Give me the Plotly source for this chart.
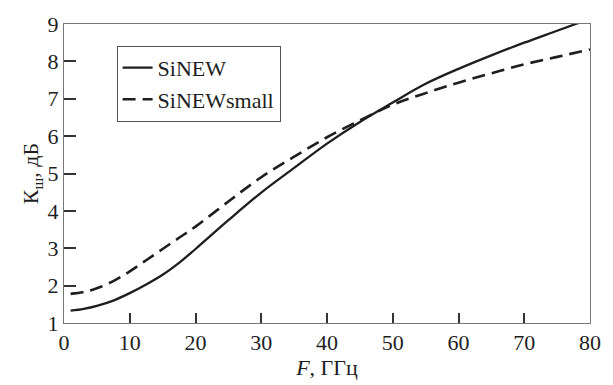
import plotly.graph_objects as go

F = [1, 3, 5, 7.5, 10, 12.5, 15, 17.5, 20, 25, 30, 35, 40, 45, 50, 55, 60, 65, 70, 75, 80]
sinew = [1.33, 1.38, 1.46, 1.6, 1.8, 2.03, 2.29, 2.61, 2.98, 3.75, 4.49, 5.15, 5.8, 6.38, 6.9, 7.4, 7.8, 8.16, 8.5, 8.82, 9.14]
sinew_small = [1.78, 1.83, 1.93, 2.12, 2.38, 2.68, 2.98, 3.28, 3.58, 4.25, 4.9, 5.45, 5.97, 6.42, 6.84, 7.15, 7.43, 7.68, 7.92, 8.12, 8.32]

x_ticks = [0, 10, 20, 30, 40, 50, 60, 70, 80]
y_ticks = [1, 2, 3, 4, 5, 6, 7, 8, 9]

font_family = "Liberation Serif, Times New Roman, serif"
ink = "#1e1e1e"

fig = go.Figure()
fig.add_trace(go.Scatter(x=F, y=sinew, mode="lines", name="SiNEW",
                         line=dict(color=ink, width=2.3, shape="spline")))
fig.add_trace(go.Scatter(x=F, y=sinew_small, mode="lines", name="SiNEWsmall",
                         line=dict(color=ink, width=2.6, dash="13px,7px", shape="spline")))

fig.update_layout(
    width=613, height=385,
    margin=dict(l=64, r=13, t=17, b=58),
    paper_bgcolor="white", plot_bgcolor="white",
    font=dict(family=font_family, size=22, color=ink),
    showlegend=True,
    legend=dict(x=0.1, y=0.927, xanchor="left", yanchor="top",
                bordercolor="#555", borderwidth=1, bgcolor="white",
                font=dict(size=22, family=font_family),
                itemwidth=30, tracegroupgap=0),
    xaxis=dict(range=[0, 80], tickvals=x_ticks, ticks="inside", ticklen=10,
               tickwidth=1.5, tickcolor="#333", showline=True, linecolor="#777",
               linewidth=1, mirror=True, showgrid=False, zeroline=False,
               title=dict(text="<i>F</i>, ГГц", standoff=2, font=dict(size=22))),
    yaxis=dict(range=[1, 9], tickvals=y_ticks, ticks="inside", ticklen=12,
               tickwidth=1.5, tickcolor="#333", showline=True, linecolor="#777",
               linewidth=1, mirror=True, showgrid=False, zeroline=False,
               title=dict(text="К<sub>ш</sub>, дБ", standoff=2, font=dict(size=22))),
)

# remove the browser's default 8px body margin so the figure fills the window
fig.write_html("out.html", config={"displayModeBar": False},
               post_script="document.body.style.margin='0px';document.body.style.overflow='hidden';")
